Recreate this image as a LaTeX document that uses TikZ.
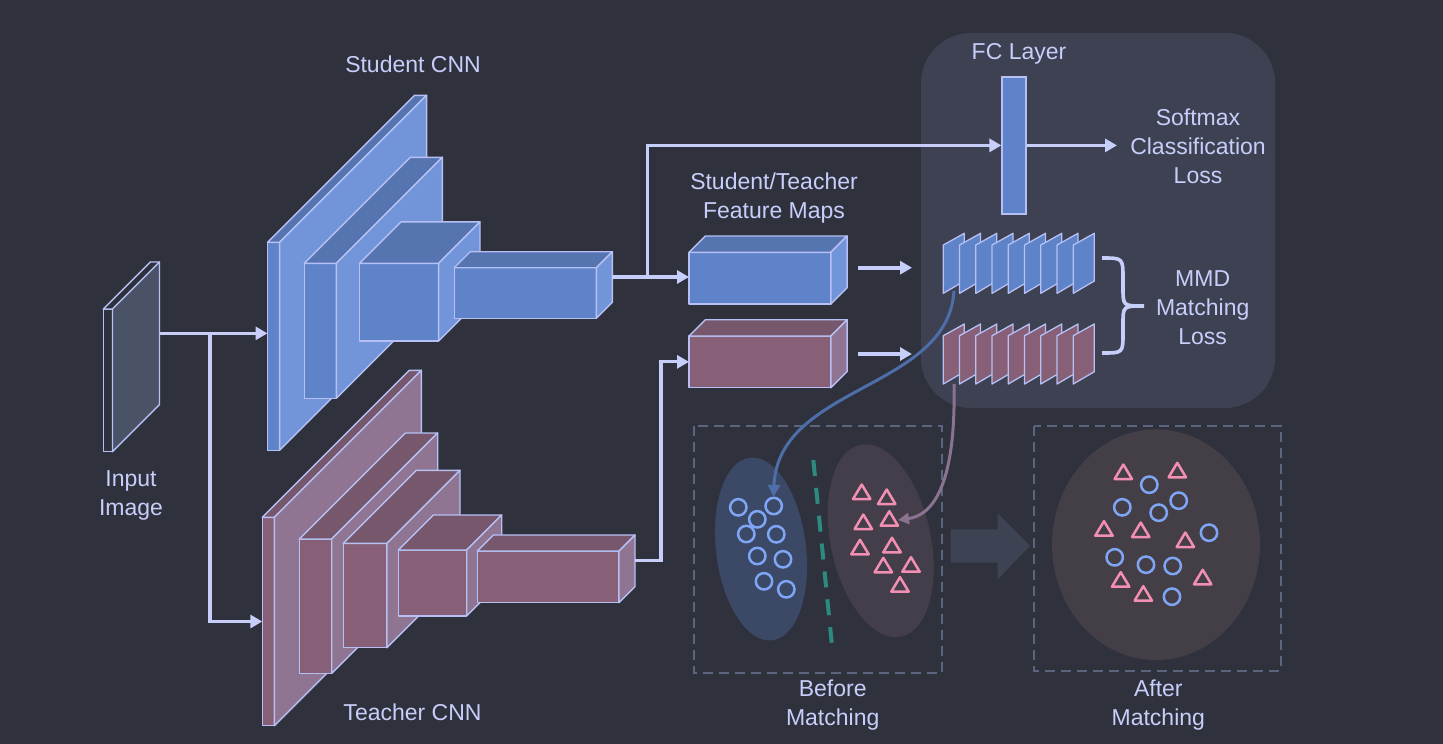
\documentclass[tikz,border=0pt]{standalone}
\usepackage{fontspec}
\setmainfont{Liberation Sans}
\usetikzlibrary{arrows.meta}

\definecolor{bgcol}{RGB}{47,50,61}
\definecolor{ink}{RGB}{200,206,250}
\definecolor{edge}{RGB}{182,192,245}
\definecolor{stuFront}{RGB}{95,131,201}
\definecolor{stuSide}{RGB}{114,149,218}
\definecolor{stuTop}{RGB}{85,116,176}
\definecolor{teaFront}{RGB}{135,96,120}
\definecolor{teaSide}{RGB}{144,117,146}
\definecolor{teaTop}{RGB}{118,87,107}
\definecolor{imgFront}{RGB}{47,50,61}
\definecolor{imgTop}{RGB}{47,50,61}
\definecolor{imgSide}{RGB}{74,83,102}
\definecolor{panelcol}{RGB}{61,65,82}
\definecolor{boxdash}{RGB}{91,101,128}
\definecolor{blueblob}{RGB}{59,72,102}
\definecolor{pinkblob}{RGB}{68,62,74}
\definecolor{mixblob}{RGB}{68,63,71}
\definecolor{dotcol}{RGB}{126,166,245}
\definecolor{tricol}{RGB}{242,143,178}
\definecolor{splitcol}{RGB}{44,138,128}
\definecolor{bigarrow}{RGB}{62,67,84}
\definecolor{scurve}{RGB}{77,110,168}
\definecolor{tcurve}{RGB}{138,114,145}

\tikzset{
  slab/.style={draw=edge, line width=1.4pt, line join=round},
  flow/.style={draw=ink, line width=3.2pt, -{Triangle[length=12pt,width=13pt]}},
  txt/.style={text=ink, align=center, font=\fontsize{23}{29}\selectfont},
  fcbar/.style={draw=edge, fill=stuFront, line width=1.6pt, minimum width=24pt, minimum height=137pt, inner sep=0pt},
  slice/.style={draw=edge, line width=1.3pt, line join=round},
  dashbox/.style={draw=boxdash, line width=2.2pt, dash pattern=on 10pt off 6pt},
  dotmark/.style={draw=dotcol, line width=2.5pt},
  trimark/.style={draw=tricol, line width=2.5pt, line join=round},
}

% name, x0, y0, x1, y1, depth, colour prefix
\newcommand{\layerbox}[7]{%
  \filldraw[slab, fill=#7Front] (#2,#3) rectangle (#4,#5);
  \filldraw[slab, fill=#7Top] (#2,#3) -- (#2+#6,#3-#6) -- (#4+#6,#3-#6) -- (#4,#3) -- cycle;
  \filldraw[slab, fill=#7Side] (#4,#3) -- (#4+#6,#3-#6) -- (#4+#6,#5-#6) -- (#4,#5) -- cycle;
  \coordinate (#1-w) at (#2,{(#3+#5)/2});
  \coordinate (#1-e) at (#4+#6,{(#3+#5)/2-#6});
}

\begin{document}
\begin{tikzpicture}[x=1pt, y=-1pt]
  \useasboundingbox (0,0) rectangle (1443,744);
  \fill[bgcol] (0,0) rectangle (1443,744);

  % loss panel
  \fill[panelcol, rounded corners=50pt] (921,33) rectangle (1275,408);

  % input image
  \layerbox{img}{103.3}{309}{112.5}{451.7}{47}{img}
  \node[txt] (inp) at (131,495) {Input\\Image};

  % student network
  \layerbox{s1}{267.5}{242.3}{279.6}{450.3}{147}{stu}
  \layerbox{s2}{304.3}{263.3}{336.4}{398.3}{106}{stu}
  \layerbox{s3}{359.6}{263.3}{438.6}{341}{41.4}{stu}
  \layerbox{s4}{454.3}{267.7}{596.4}{318.3}{16}{stu}
  \node[txt] (stu) at (413,64) {Student CNN};

  % teacher network
  \layerbox{t1}{262.3}{517.3}{274.3}{725.7}{147}{tea}
  \layerbox{t2}{299.3}{539}{331.7}{673.3}{106}{tea}
  \layerbox{t3}{343.3}{543.3}{387}{647.7}{73}{tea}
  \layerbox{t4}{398.3}{550}{466.7}{616}{35}{tea}
  \layerbox{t5}{477.3}{551}{619}{602.7}{16}{tea}
  \node[txt] (tea) at (412.5,712) {Teacher CNN};

  % feature maps
  \layerbox{sfm}{689}{252.3}{830.8}{304}{16.3}{stu}
  \layerbox{tfm}{689}{336}{830.8}{387.7}{16.3}{tea}
  \node[txt] (fm) at (774,198) {Student/Teacher\\Feature Maps};

  % input flows
  \coordinate (split) at (210,333.4);
  \draw[flow] (img-e) -- (img-e -| s1-w);
  \draw[flow] (split) |- (t1-w);

  % fc layer
  \node[fcbar] (fc) at (1014.2,145.4) {};
  \node[txt] (fcl) at (1019,54) {FC Layer};
  \node[txt] (sm) at (1198,146.5) {Softmax\\Classification\\Loss};

  \draw[flow] (s4-e) -- (s4-e -| sfm-w);
  \draw[flow] (s4-e) ++(35,0) |- (fc.west);
  \draw[flow] (t5-e) -- ++(26,0) |- (tfm-w);
  \draw[flow] (fc.east) -- ++(90,0);

  \coordinate (sa-s) at (858,267.7);
  \coordinate (sa-e) at (912,267.7);
  \coordinate (ta-s) at (858,354);
  \coordinate (ta-e) at (912,354);
  \draw[flow, line width=3.8pt] (sa-s) -- (sa-e);
  \draw[flow, line width=3.8pt] (ta-s) -- (ta-e);

  % matching boxes
  \draw[dashbox] (694.3,425.7) rectangle (941.7,673.3);
  \draw[dashbox] (1034.3,425.7) rectangle (1280.7,670.7);
  \fill[blueblob, rotate around={7:(761,549)}] (761,549) ellipse [x radius=45, y radius=92];
  \fill[pinkblob, rotate around={12:(880.7,540.7)}] (880.7,540.7) ellipse [x radius=50, y radius=98];
  \fill[mixblob] (1156,544.7) ellipse [x radius=104, y radius=115.3];
  \draw[splitcol, line width=4pt, dash pattern=on 16pt off 12pt] (813.3,460) -- (831.7,642.7);
  \fill[bigarrow] (950.7,529.3) -- (997.7,529.3) -- (997.7,513.3) -- (1030,545.7)
    -- (997.7,579.3) -- (997.7,562.7) -- (950.7,562.7) -- cycle;

  \foreach \x/\y in {738.3/507.3, 773.7/506, 757.3/519.3, 746.3/534, 776.3/534.3,
                     757.3/556, 783/559.3, 764/581.3, 786.3/589.3,
                     1149.3/484.7, 1122.3/507.3, 1158.7/512.7, 1178.7/500.7, 1209/532.7,
                     1114.7/557.3, 1146/564.7, 1172.7/566, 1172/596.7}
    \draw[dotmark] (\x,\y) circle [radius=8.2];
  \foreach \x/\y in {861.7/494, 886.7/499, 863.3/524, 889.3/520.7, 860/549.3,
                     892/547.3, 883.3/567.3, 911/566.7, 900/586.7,
                     1123.3/474, 1177.3/472.3, 1104/530.7, 1140.7/532, 1185.3/542,
                     1120.7/581.7, 1143.3/595.7, 1202.7/579.3}
    \draw[trimark] (\x-8.7,\y+5) -- (\x+8.7,\y+5) -- (\x,\y-9.5) -- cycle;

  \node[txt] (bef) at (832.7,705.5) {Before\\Matching};
  \node[txt] (aft) at (1158.3,705.5) {After\\Matching};

  % curves to the point clouds
  \coordinate (sfoot) at (954,291);
  \coordinate (tfoot) at (954,384);
  \coordinate (cloud-s) at (773.5,497);
  \coordinate (cloud-t) at (898,520);
  \draw[scurve, line width=3pt, -{Triangle[length=12pt,width=12pt]}]
    (sfoot) .. controls (948,390) and (778,385) .. (cloud-s);
  \draw[tcurve, line width=3pt, -{Triangle[length=11pt,width=11pt]}]
    (tfoot) .. controls (956,480) and (935,515) .. (cloud-t);

  % feature slices
  \foreach \i in {0,...,8}
    \filldraw[slice, fill=stuFront] ({943.3+16.25*\i},245) -- ++(21,-11.7) -- ++(0,47.7) -- ++(-21,12.3) -- cycle;
  \foreach \i in {0,...,8}
    \filldraw[slice, fill=teaFront] ({943.3+16.25*\i},335.7) -- ++(21,-11.7) -- ++(0,47.7) -- ++(-21,12.3) -- cycle;

  % brace
  \draw[ink, line width=3.6pt] (1102,258) .. controls (1123,258) .. (1123,279) -- (1123,288)
    .. controls (1123,306) .. (1144,306) .. controls (1123,306) .. (1123,324) -- (1123,333)
    .. controls (1123,353) .. (1102,353);
  \node[txt] (mmd) at (1202.7,308) {MMD\\Matching\\Loss};
\end{tikzpicture}
\end{document}
